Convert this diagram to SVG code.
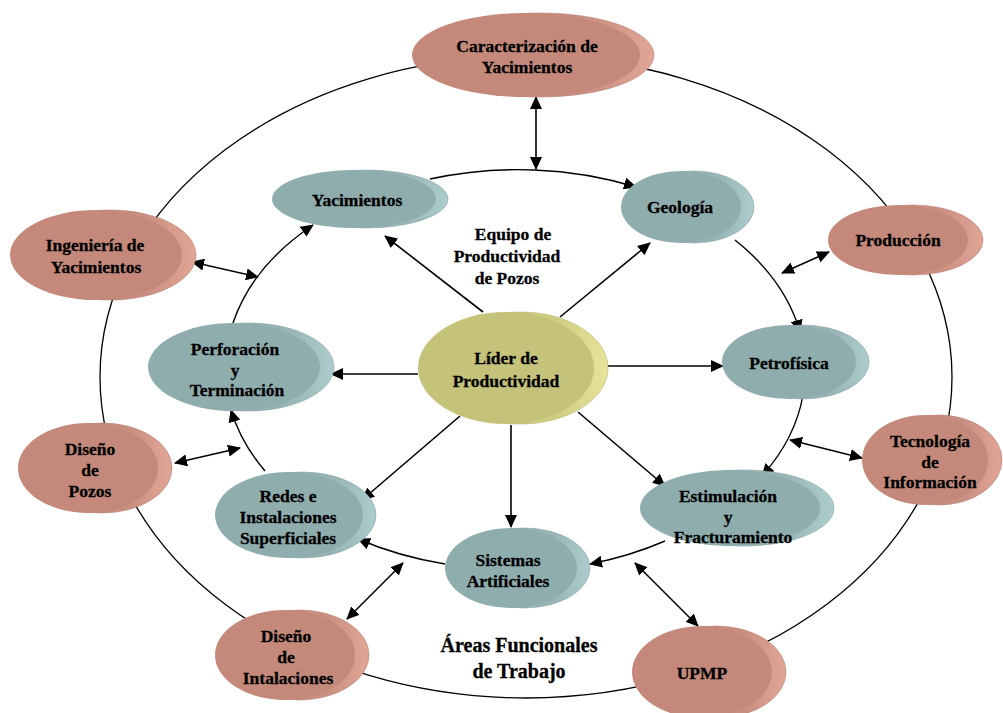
<svg xmlns="http://www.w3.org/2000/svg" width="1003" height="713" viewBox="0 0 1003 713">
<defs>
<marker id="ah" markerUnits="userSpaceOnUse" markerWidth="13" markerHeight="12" viewBox="0 0 13 12" refX="12" refY="6" orient="auto-start-reverse">
<path d="M0,0 L13,6 L0,12 z" fill="#000"/>
</marker>
<linearGradient id="gS" x1="0" y1="0" x2="1" y2="0"><stop offset="0.7" stop-color="#c98f80"/><stop offset="1" stop-color="#e2a696"/></linearGradient>
<linearGradient id="gT" x1="0" y1="0" x2="1" y2="0"><stop offset="0.7" stop-color="#96b4b4"/><stop offset="1" stop-color="#adcccc"/></linearGradient>
<linearGradient id="gO" x1="0" y1="0" x2="1" y2="0"><stop offset="0.7" stop-color="#cfcc80"/><stop offset="1" stop-color="#e6e59a"/></linearGradient>
</defs>
<style>
.ring{fill:none;stroke:#000;stroke-width:1.3}
.arc{fill:none;stroke:#000;stroke-width:1.4;marker-end:url(#ah)}
.ar{fill:none;stroke:#000;stroke-width:1.6;marker-end:url(#ah)}
.dar{fill:none;stroke:#000;stroke-width:1.6;marker-end:url(#ah);marker-start:url(#ah)}
.s .back{fill:url(#gS);stroke:#b27c70;stroke-width:0.6}
.s .front{fill:#c4897a}
.t .back{fill:url(#gT);stroke:#84a0a0;stroke-width:0.6}
.t .front{fill:#8fadad}
.o .back{fill:url(#gO);stroke:#b4b26c;stroke-width:0.6}
.o .front{fill:#c5c27a}
text{font-family:"Liberation Serif","Times New Roman",serif;font-weight:bold;font-size:17.5px;fill:#000;stroke:#000;stroke-width:0.3;text-anchor:middle}
.big{font-size:20px}
</style>
<rect width="1003" height="713" fill="#fff"/>
<g id="connectors">
<ellipse class="ring" cx="526" cy="377" rx="426" ry="321"/>
<path class="arc" d="M430,179 A290,200 0 0 1 636,187"/>
<path class="arc" d="M735,240 A290,200 0 0 1 800,332"/>
<path class="arc" d="M803,395 A290,200 0 0 1 762,476"/>
<path class="arc" d="M665,541 A290,200 0 0 1 590,564"/>
<path class="arc" d="M445,564 A290,200 0 0 1 358,539"/>
<path class="arc" d="M265,471 A290,200 0 0 1 231,410"/>
<path class="arc" d="M233,323 A290,200 0 0 1 313,225"/>
<path class="ar" d="M483,312 L385,236"/>
<path class="ar" d="M560,317 L650,243"/>
<path class="ar" d="M418,374 L331,374"/>
<path class="ar" d="M600,366 L723,366"/>
<path class="ar" d="M460,416 L362,500"/>
<path class="ar" d="M511,425 L511,527"/>
<path class="ar" d="M578,412 L665,486"/>
<path class="dar" d="M536,97 L536,169"/>
<path class="dar" d="M192,262 L258,277"/>
<path class="dar" d="M782,273 L829,252"/>
<path class="dar" d="M175,463 L240,448"/>
<path class="dar" d="M790,440 L862,458"/>
<path class="dar" d="M347,619 L403,563"/>
<path class="dar" d="M635,563 L698,626"/>
</g>
<g id="caracterizacion" class="s"><ellipse class="back" cx="540" cy="55" rx="114" ry="42"/><ellipse class="front" cx="526" cy="55" rx="114" ry="42"/><text x="527" y="52">Caracterización de</text><text x="527" y="73">Yacimientos</text></g>
<g id="ingenieria" class="s"><ellipse class="back" cx="110" cy="255" rx="86" ry="45"/><ellipse class="front" cx="96" cy="255" rx="86" ry="45"/><text x="95" y="251">Ingeniería de</text><text x="96" y="273">Yacimientos</text></g>
<g id="yacimientos" class="t"><ellipse class="back" cx="366" cy="199" rx="82" ry="29"/><ellipse class="front" cx="354" cy="199" rx="82" ry="29"/><text x="357" y="206">Yacimientos</text></g>
<g id="geologia" class="t"><ellipse class="back" cx="694" cy="207" rx="60" ry="36"/><ellipse class="front" cx="681" cy="207" rx="60" ry="36"/><text x="680" y="213">Geología</text></g>
<g id="produccion" class="s"><ellipse class="back" cx="913" cy="240" rx="70" ry="35"/><ellipse class="front" cx="898" cy="240" rx="70" ry="35"/><text x="898" y="246">Producción</text></g>
<g id="perforacion" class="t"><ellipse class="back" cx="248" cy="367" rx="86" ry="44"/><ellipse class="front" cx="234" cy="367" rx="86" ry="44"/><text x="235" y="355">Perforación</text><text x="235" y="376">y</text><text x="237" y="396">Terminación</text></g>
<g id="lider" class="o"><ellipse class="back" cx="520" cy="368" rx="88" ry="56"/><ellipse class="front" cx="506" cy="368" rx="88" ry="56"/><text x="506" y="364">Líder de</text><text x="506" y="387">Productividad</text></g>
<g id="petrofisica" class="t"><ellipse class="back" cx="802" cy="362" rx="67" ry="37"/><ellipse class="front" cx="789" cy="362" rx="67" ry="37"/><text x="789" y="369">Petrofísica</text></g>
<g id="tecnologia" class="s"><ellipse class="back" cx="939" cy="460" rx="63" ry="45"/><ellipse class="front" cx="925" cy="460" rx="63" ry="45"/><text x="930" y="447">Tecnología</text><text x="930" y="468">de</text><text x="930" y="488">Información</text></g>
<g id="disenoPozos" class="s"><ellipse class="back" cx="102" cy="468" rx="70" ry="45"/><ellipse class="front" cx="88" cy="468" rx="70" ry="45"/><text x="90" y="455">Diseño</text><text x="90" y="476">de</text><text x="90" y="497">Pozos</text></g>
<g id="redes" class="t"><ellipse class="back" cx="302" cy="515" rx="74" ry="43"/><ellipse class="front" cx="289" cy="515" rx="74" ry="43"/><text x="288" y="502">Redes e</text><text x="288" y="523">Instalaciones</text><text x="288" y="544">Superficiales</text></g>
<g id="sistemas" class="t"><ellipse class="back" cx="524" cy="568" rx="66" ry="40"/><ellipse class="front" cx="511" cy="568" rx="66" ry="40"/><text x="508" y="566">Sistemas</text><text x="508" y="587">Artificiales</text></g>
<g id="estimulacion" class="t"><ellipse class="back" cx="744" cy="508" rx="90" ry="38"/><ellipse class="front" cx="730" cy="508" rx="90" ry="38"/><text x="728" y="502">Estimulación</text><text x="728" y="523">y</text><text x="733" y="543">Fracturamiento</text></g>
<g id="disenoInst" class="s"><ellipse class="back" cx="299" cy="655" rx="70" ry="45"/><ellipse class="front" cx="285" cy="655" rx="70" ry="45"/><text x="286" y="642">Diseño</text><text x="286" y="663">de</text><text x="288" y="684">Intalaciones</text></g>
<g id="upmp" class="s"><ellipse class="back" cx="716" cy="672" rx="70" ry="46"/><ellipse class="front" cx="702" cy="672" rx="70" ry="46"/><text x="702" y="679">UPMP</text></g>
<g id="labels">
<text x="513" y="240">Equipo de</text><text x="507" y="262">Productividad</text><text x="507" y="284">de Pozos</text>
<text class="big" x="519" y="652">Áreas Funcionales</text><text class="big" x="519" y="678">de Trabajo</text>
</g>
</svg>
